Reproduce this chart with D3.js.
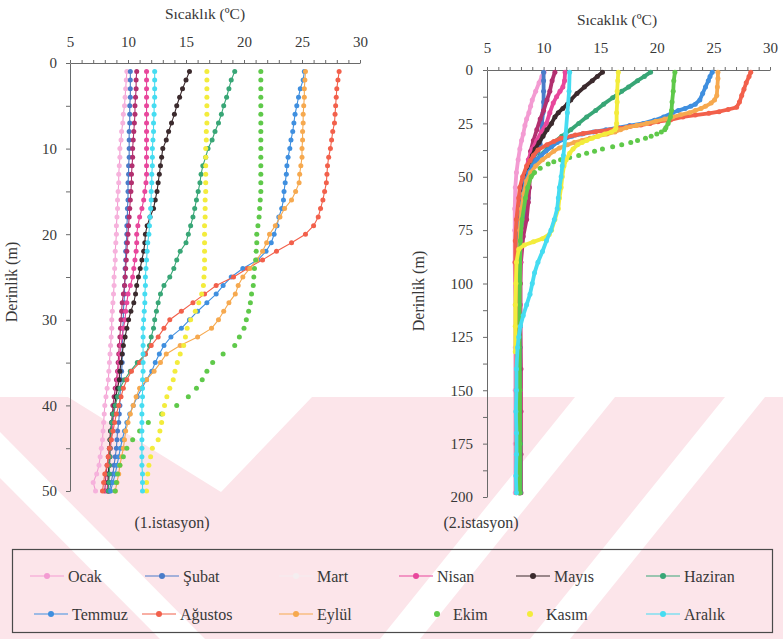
<!DOCTYPE html>
<html>
<head>
<meta charset="utf-8">
<script src="https://cdn.jsdelivr.net/npm/d3@7"></script>
<style>
  body { margin: 0; background: #fff; }
  svg text { fill: #383838; }
</style>
</head>
<body>
<svg id="chart" width="783" height="639"></svg>
<script>
// ---- months, colours, styles ----
const months = ["Ocak", "Şubat", "Mart", "Nisan", "Mayıs", "Haziran",
                "Temmuz", "Ağustos", "Eylül", "Ekim", "Kasım", "Aralık"];
const monthColors = ["#f39bd2", "#4a7cc9", "#b2306f", "#e8479c", "#3b2a2d", "#38a676",
                     "#3f8fdf", "#f2604b", "#f6a94f", "#5fc94a", "#f3ec3c", "#45dcf1"];
const markerOnly = ["Ekim", "Kasım"];

// ---- axis ticks ----
const tempTicks = [5, 10, 15, 20, 25, 30];
const depthTicks1 = [0, 10, 20, 30, 40, 50];
const depthTicks2 = [0, 25, 50, 75, 100, 125, 150, 175, 200];

// ---- station 1: temperature (°C) at 1 m steps ----
const depth1 = [1,2,3,4,5,6,7,8,9,10,11,12,13,14,15,16,17,18,19,20,21,22,23,24,25,
                26,27,28,29,30,31,32,33,34,35,36,37,38,39,40,41,42,43,44,45,46,47,48,49,50];
const st1Ocak = [9.9,9.85,9.8,9.75,9.7,9.6,9.55,9.45,9.4,9.3, 9.3,9.25,9.2,9.2,9.15,9.1,9.1,9.05,9.0,9.0,
  8.95,8.9,8.9,8.85,8.8,8.8,8.75,8.7,8.65,8.6, 8.6,8.55,8.5,8.45,8.4,8.35,8.3,8.2,8.1,8.0,
  7.95,7.9,7.85,7.8,7.7,7.6,7.5,7.3,7.0,7.2];
const st1Subat = [10.2,10.2,10.2,10.2,10.15,10.15,10.15,10.1,10.1,10.1, 10.1,10.05,10.05,10.0,10.0,10.0,9.95,9.95,9.9,9.9,
  9.85,9.8,9.8,9.75,9.75,9.7,9.7,9.65,9.6,9.6, 9.55,9.55,9.5,9.5,9.5,9.45,9.4,9.35,9.3,9.3,
  9.25,9.2,9.1,9.05,9.0,8.9,8.8,8.7,8.55,8.4];
const st1Mart = [10.75,10.7,10.7,10.65,10.6,10.6,10.55,10.5,10.45,10.4, 10.4,10.35,10.3,10.3,10.25,10.2,10.15,10.1,10.05,10.0,
  9.95,9.9,9.85,9.8,9.75,9.7,9.6,9.5,9.45,9.4, 9.35,9.3,9.25,9.2,9.15,9.1,9.0,8.9,8.8,8.7,
  8.65,8.6,8.5,8.45,8.4,8.3,8.2,8.1,8.05,8.0];
const st1Nisan = [11.6,11.6,11.6,11.6,11.6,11.6,11.6,11.6,11.6,11.6, 11.6,11.6,11.6,11.55,11.45,11.35,11.2,11.0,10.85,10.75,
  10.75,10.7,10.6,10.5,10.4,10.2,10.0,9.9,9.8,9.75, 9.6,9.5,9.4,9.3,9.25,9.15,9.1,9.0,8.95,8.9,
  8.8,8.7,8.65,8.55,8.5,8.45,8.4,8.3,8.25,8.2];
const st1Mayis = [15.3,15.0,14.7,14.45,14.2,14.0,13.75,13.5,13.3,13.0, 12.9,12.8,12.7,12.6,12.5,12.35,12.2,11.9,11.65,11.5,
  11.45,11.35,11.2,11.05,10.9,10.75,10.65,10.5,10.25,10.05, 9.9,9.75,9.6,9.5,9.4,9.3,9.25,9.1,8.95,8.85,
  8.7,8.6,8.5,8.45,8.4,8.4,8.35,8.3,8.3,8.3];
const st1Haziran = [19.2,18.9,18.7,18.5,18.25,18.05,17.8,17.5,17.25,16.9, 16.7,16.45,16.3,16.2,16.05,15.9,15.75,15.6,15.4,15.2,
  15.0,14.5,14.2,13.95,13.6,13.1,12.8,12.6,12.45,12.3, 12.2,12.0,11.85,11.5,10.8,10.2,9.7,9.3,9.1,8.9,
  8.7,8.6,8.55,8.5,8.45,8.45,8.4,8.4,8.35,8.3];
const st1Temmuz = [25.2,25.1,24.85,24.7,24.55,24.4,24.3,24.2,24.05,23.95, 23.8,23.7,23.65,23.55,23.45,23.4,23.25,23.0,22.85,22.6,
  22.35,21.9,21.2,19.9,18.9,18.2,17.6,16.8,16.0,15.3, 14.6,13.7,13.1,12.7,12.35,12.05,11.6,11.2,10.8,10.45,
  10.15,9.9,9.7,9.5,9.35,9.2,9.05,8.9,8.7,8.5];
const st1Agustos = [28.2,28.1,28.0,27.95,27.9,27.85,27.8,27.65,27.55,27.45, 27.3,27.2,27.15,27.1,26.95,26.8,26.6,26.4,26.0,25.3,
  24.1,22.8,21.6,20.3,19.1,17.6,16.6,15.6,14.6,13.6, 13.1,12.6,12.0,11.5,11.0,10.3,9.9,9.6,9.4,9.2,
  9.0,8.85,8.7,8.55,8.4,8.3,8.2,8.0,7.9,7.8];
const st1Eylul = [25.3,25.25,25.2,25.2,25.15,25.1,25.1,25.05,25.05,25.0, 25.0,24.9,24.8,24.75,24.45,24.1,23.5,23.1,22.7,22.2,
  21.95,21.6,21.1,20.5,19.9,19.5,19.25,18.7,18.25,17.8, 17.2,16.0,14.5,13.3,12.8,12.25,11.6,11.0,10.7,10.45,
  10.2,10.0,9.8,9.7,9.6,9.45,9.3,9.2,9.05,8.9];
const st1Ekim = [21.45,21.45,21.45,21.45,21.45,21.45,21.45,21.45,21.45,21.45, 21.45,21.45,21.45,21.45,21.45,21.4,21.35,21.3,21.2,21.1,
  21.1,21.05,21.0,20.9,20.85,20.8,20.65,20.55,20.4,20.2, 20.0,19.6,19.2,18.2,17.3,16.8,16.4,15.9,15.2,14.2,
  12.9,11.75,11.0,10.4,9.9,9.6,9.3,9.1,9.0,8.9];
const st1Kasim = [16.8,16.8,16.8,16.8,16.8,16.8,16.8,16.75,16.75,16.7, 16.7,16.7,16.7,16.7,16.7,16.65,16.65,16.65,16.6,16.6,
  16.6,16.6,16.6,16.6,16.55,16.5,16.35,16.1,15.8,15.4, 15.1,14.95,14.8,14.5,14.25,14.05,13.9,13.6,13.35,13.15,
  13.0,12.9,12.75,12.6,12.1,11.95,11.8,11.7,11.6,11.6];
const st1Aralik = [12.3,12.3,12.3,12.3,12.25,12.25,12.2,12.2,12.15,12.1, 12.1,12.1,12.05,12.05,12.0,12.0,11.95,11.9,11.85,11.8,
  11.7,11.65,11.6,11.55,11.5,11.5,11.45,11.45,11.4,11.35, 11.3,11.3,11.3,11.3,11.3,11.3,11.25,11.25,11.25,11.2,
  11.2,11.2,11.2,11.2,11.2,11.2,11.2,11.25,11.25,11.25];

// ---- station 2: [depth (m), temperature (°C)] profiles ----
const st2Ocak = [[1,10.05],[3,9.85],[6,9.6],[10,9.3],[14,9.0],[17,8.85],[20,8.7],[23,8.5],[26,8.35],[30,8.2],
  [33,8.05],[37,7.9],[42,7.75],[48,7.6],[55,7.5],[65,7.45],[75,7.45],[90,7.45],[110,7.5],[130,7.5],[150,7.5],[175,7.5],[198,7.5]];
const st2Subat = [[1,10.0],[5,10.0],[10,10.0],[15,10.0],[20,9.95],[25,9.85],[30,9.8],[35,9.7],[38,9.5],[41,9.1],
  [45,8.9],[50,8.75],[55,8.65],[60,8.65],[65,8.45],[70,8.2],[76,7.95],[90,7.85],[110,7.85],[130,7.85],[150,7.85],[175,7.85],[198,7.85]];
const st2Mart = [[1,11.0],[5,10.75],[10,10.55],[14,10.3],[19,10.0],[23,9.7],[28,9.4],[33,9.1],[38,8.85],[45,8.8],
  [55,8.75],[62,8.65],[70,8.5],[78,8.2],[90,8.0],[100,7.95],[120,7.95],[140,8.0],[160,8.0],[180,8.0],[198,8.0]];
const st2Nisan = [[1,11.9],[5,11.85],[8,11.7],[10,11.45],[12.5,11.15],[15.5,10.85],[20,10.55],[25,10.25],[29,9.8],[33,9.4],
  [37,9.0],[42,8.65],[48,8.4],[55,8.25],[65,8.1],[75,8.0],[90,7.95],[110,7.95],[130,7.95],[150,7.95],[175,7.95],[198,7.95]];
const st2Mayis = [[1,15.2],[3,14.75],[5,14.3],[8,13.6],[11,12.95],[14,12.4],[16,12.1],[18,11.7],[20,11.3],[22,11.0],
  [25,10.7],[28,10.3],[31,9.95],[34,9.6],[37,9.25],[40,9.0],[45,8.6],[50,8.35],[55,8.2],[60,8.1],[70,7.9],[80,7.8],
  [90,7.75],[100,7.8],[120,7.85],[140,7.85],[160,7.85],[180,7.85],[198,7.85]];
const st2Haziran = [[1,19.45],[3,18.9],[5,18.3],[8,17.5],[10,16.9],[13,16.1],[16,15.3],[19,14.6],[22,13.8],[25,13.1],
  [28,12.4],[31,11.6],[34,10.9],[37,10.3],[40,9.7],[44,9.1],[48,8.7],[52,8.5],[58,8.3],[65,8.1],[75,7.95],[90,7.85],
  [110,7.85],[130,7.9],[150,7.9],[175,7.95],[198,7.95]];
const st2Temmuz = [[1,24.9],[3,24.7],[5,24.55],[8,24.3],[11,24.05],[14,23.8],[16,23.4],[17,23.0],[18,22.5],[19,21.9],
  [20,21.4],[22,20.6],[23.5,19.8],[25,18.8],[26,17.6],[27,16.6],[28,15.5],[29,14.4],[30,13.4],[31,12.5],[32.5,11.8],
  [34,11.2],[36,10.7],[38,10.2],[40,9.8],[42,9.4],[45,9.0],[48,8.7],[52,8.4],[58,8.2],[65,8.0],[75,7.85],[90,7.8],
  [110,7.8],[130,7.8],[150,7.8],[175,7.8],[198,7.8]];
const st2Agustos = [[1,28.3],[3,28.15],[6,27.9],[9,27.7],[12,27.5],[15,27.3],[17.5,27.05],[18.5,26.3],[19.5,25.5],[20.3,24.6],
  [21.1,23.4],[22,22.3],[23.4,21.2],[24.2,20.1],[25,19.4],[25.8,18.6],[26.5,17.6],[27.3,16.7],[28.1,15.8],[28.9,14.6],
  [29.7,13.5],[30.5,12.8],[32,11.5],[33.5,10.9],[35,10.3],[37.5,9.5],[40,9.1],[42.5,8.8],[45,8.5],[50,8.15],[55,7.9],
  [60,7.8],[70,7.6],[80,7.5],[90,7.5],[110,7.55],[130,7.6],[150,7.6],[175,7.6],[198,7.6]];
const st2Eylul = [[1,25.4],[4,25.4],[8,25.35],[12,25.3],[14,25.1],[15.5,24.8],[17,24.3],[18,23.9],[19,23.4],[20,22.9],
  [21,22.1],[22,21.4],[23,20.7],[24,19.9],[25,19.1],[26,18.2],[27,17.3],[28,16.8],[29,16.3],[30,15.6],[31,14.8],
  [32,14.1],[33,13.4],[34,12.7],[35,12.1],[36.5,11.4],[38,10.9],[40,10.4],[42,9.9],[45,9.3],[48,8.85],[52,8.5],
  [58,8.25],[65,8.05],[75,7.9],[90,7.8],[110,7.8],[130,7.8],[150,7.8],[175,7.8],[198,7.8]];
const st2Ekim = [[1,21.6],[5,21.5],[10,21.45],[15,21.35],[19,21.3],[22,21.2],[25,21.0],[27,20.8],[28,20.7],[29,20.4],
  [30,20.0],[31,19.5],[32,19.0],[33,18.3],[34,17.7],[35,16.9],[36,16.1],[37,15.2],[38,14.5],[39,13.8],[40,13.1],
  [41,12.3],[42,11.5],[43,10.9],[44,10.4],[46,9.7],[48,9.2],[50,8.9],[55,8.6],[60,8.4],[70,8.1],[80,7.95],
  [100,7.9],[125,7.85],[150,7.9],[175,7.9],[198,7.9]];
const st2Kasim = [[1,16.6],[5,16.55],[10,16.5],[15,16.5],[20,16.45],[25,16.45],[27,16.4],[28,16.3],[29,16.0],[30,15.4],
  [31,14.8],[32,14.3],[33,13.8],[34,13.4],[35,13.0],[37,12.6],[39,12.3],[42,12.0],[45,11.8],[50,11.65],[55,11.55],
  [60,11.4],[65,11.3],[70,11.0],[75,10.7],[77,10.5],[79,9.9],[80.5,9.1],[82,8.3],[84,7.8],[90,7.6],[100,7.55],
  [110,7.5],[120,7.5],[132,7.5]];
const st2Aralik = [[1,12.3],[10,12.25],[20,12.1],[30,11.95],[40,11.75],[45,11.65],[50,11.55],[55,11.4],[60,11.3],[65,11.2],
  [70,10.95],[75,10.65],[80,10.25],[85,9.9],[90,9.5],[95,9.2],[100,9.0],[105,8.8],[110,8.5],[115,8.2],[120,7.95],
  [125,7.8],[130,7.7],[140,7.6],[150,7.6],[160,7.55],[170,7.6],[180,7.6],[190,7.55],[198,7.6]];

const station1 = [st1Ocak, st1Subat, st1Mart, st1Nisan, st1Mayis, st1Haziran,
                  st1Temmuz, st1Agustos, st1Eylul, st1Ekim, st1Kasim, st1Aralik]
  .map(vals => vals.map((t, i) => [depth1[i], t]));
const station2 = [st2Ocak, st2Subat, st2Mart, st2Nisan, st2Mayis, st2Haziran,
                  st2Temmuz, st2Agustos, st2Eylul, st2Ekim, st2Kasim, st2Aralik];

const FONT = "'Liberation Serif', 'DejaVu Serif', serif";
const svg = d3.select("#chart");

// faint backdrop band across the lower part of the page
const backdrop = svg.append("g");
backdrop.append("rect").attr("x", 0).attr("y", 397).attr("width", 783).attr("height", 242).attr("fill", "#fce5ea");
[
  [[68, 397], [312, 397], [221, 492]],
  [[0, 432], [0, 478], [160, 639], [205, 639]],
  [[575, 397], [615, 397], [420, 639], [380, 639]],
  [[725, 397], [765, 397], [570, 639], [530, 639]]
].forEach(p => backdrop.append("polygon").attr("points", p.join(" ")).attr("fill", "#fff"));

function drawPanel(cfg) {
  const g = svg.append("g");
  const x = d3.scaleLinear().domain([5, 30]).range(cfg.xRange);
  const y = d3.scaleLinear().domain([0, cfg.maxDepth]).range(cfg.yRange);

  // temperature axis along the top
  const xa = g.append("g").attr("transform", `translate(0,${y(0)})`)
    .call(d3.axisTop(x).tickValues(d3.range(5, 31)).tickSize(3).tickSizeOuter(0)
      .tickPadding(cfg.xPad).tickFormat(d => tempTicks.includes(d) ? d : ""));
  // depth axis down the left
  const ya = g.append("g").attr("transform", `translate(${x(5)},0)`)
    .call(d3.axisLeft(y).tickValues(d3.range(0, cfg.maxDepth + 0.1, cfg.minorDepth)).tickSize(4).tickSizeOuter(0)
      .tickPadding(cfg.yPad).tickFormat(d => cfg.depthTicks.includes(d) ? d : ""));
  [xa, ya].forEach(a => {
    a.attr("font-family", FONT);
    a.selectAll("path, line").attr("stroke", "#6a6a6a");
    a.selectAll("text").attr("font-size", 15).attr("fill", "#3a3a3a");
  });

  g.append("text").attr("x", cfg.titleX).attr("y", cfg.titleY).attr("text-anchor", "middle")
    .attr("font-family", FONT).attr("font-size", 15.5).text("Sıcaklık (ºC)");
  g.append("text").attr("transform", `translate(${cfg.ylabX},${cfg.ylabY}) rotate(-90)`)
    .attr("font-family", FONT).attr("text-anchor", "middle").attr("font-size", 16).text("Derinlik (m)");
  g.append("text").attr("x", cfg.capX).attr("y", 528).attr("text-anchor", "middle")
    .attr("font-family", FONT).attr("font-size", 16).text(cfg.caption);

  const line = d3.line().x(p => x(p[1])).y(p => y(p[0]));
  cfg.series.forEach((pts, i) => {
    const name = months[i], col = monthColors[i];
    const s = g.append("g");
    const dotsOnly = markerOnly.includes(name);
    if (!dotsOnly || (cfg.thick && name !== "Ekim")) {
      s.append("path").attr("d", line(pts)).attr("fill", "none").attr("stroke", col)
        .attr("stroke-width", cfg.thick ? 3.8 : 1.1).attr("stroke-linejoin", "round").attr("stroke-linecap", "round");
    } else if (cfg.thick) {
      // dense markers merge into a band where the profile is steep, and separate where it is flat
      d3.pairs(pts).filter(([a, b]) => Math.abs(x(a[1]) - x(b[1])) <= Math.abs(y(a[0]) - y(b[0])))
        .forEach(seg => s.append("path").attr("d", line(seg)).attr("fill", "none").attr("stroke", col)
          .attr("stroke-width", 3.8).attr("stroke-linecap", "round"));
    }
    s.selectAll("circle").data(pts).join("circle")
      .attr("cx", p => x(p[1])).attr("cy", p => y(p[0])).attr("r", cfg.r)
      .attr("fill", name === "Ocak" && !cfg.thick ? "#f6b2dc" : col);
  });
}

drawPanel({
  xRange: [70, 360], yRange: [63, 491], maxDepth: 50, minorDepth: 5, depthTicks: depthTicks1,
  xPad: 13, yPad: 9, titleX: 205, titleY: 19, ylabX: 17, ylabY: 282, capX: 172,
  caption: "(1.istasyon)", series: station1, thick: false, r: 2.5
});
drawPanel({
  xRange: [487, 770], yRange: [70, 497], maxDepth: 200, minorDepth: 12.5, depthTicks: depthTicks2,
  xPad: 14, yPad: 10, titleX: 617, titleY: 25, ylabX: 424, ylabY: 291, capX: 481,
  caption: "(2.istasyon)", series: station2, thick: true, r: 2.5
});

// ---- legend ----
const legend = svg.append("g");
legend.append("rect").attr("x", 12.5).attr("y", 549.5).attr("width", 760).attr("height", 83)
  .attr("fill", "none").attr("stroke", "#4a4a4a").attr("stroke-width", 1.2);
const legendTextX = [[68, 183, 317, 437, 554, 684], [72, 180, 317, 453, 546, 684]];
const legendRowY = [576, 614];
months.forEach((name, i) => {
  const row = Math.floor(i / 6), col = i % 6;
  const tx = legendTextX[row][col], ty = legendRowY[row];
  const faint = name === "Mart";
  const c = faint ? "#f4eef0" : monthColors[i];
  const item = legend.append("g");
  if (markerOnly.includes(name)) {
    item.append("circle").attr("cx", tx - 16).attr("cy", ty).attr("r", 3).attr("fill", c);
  } else {
    item.append("line").attr("x1", tx - 38).attr("x2", tx - 4).attr("y1", ty).attr("y2", ty)
      .attr("stroke", c).attr("stroke-width", 1.2);
    item.append("circle").attr("cx", tx - 21).attr("cy", ty).attr("r", 3).attr("fill", c);
  }
  item.append("text").attr("x", tx).attr("y", ty).attr("dy", "0.35em")
    .attr("font-family", FONT).attr("font-size", 16).text(name);
});
</script>
</body>
</html>
